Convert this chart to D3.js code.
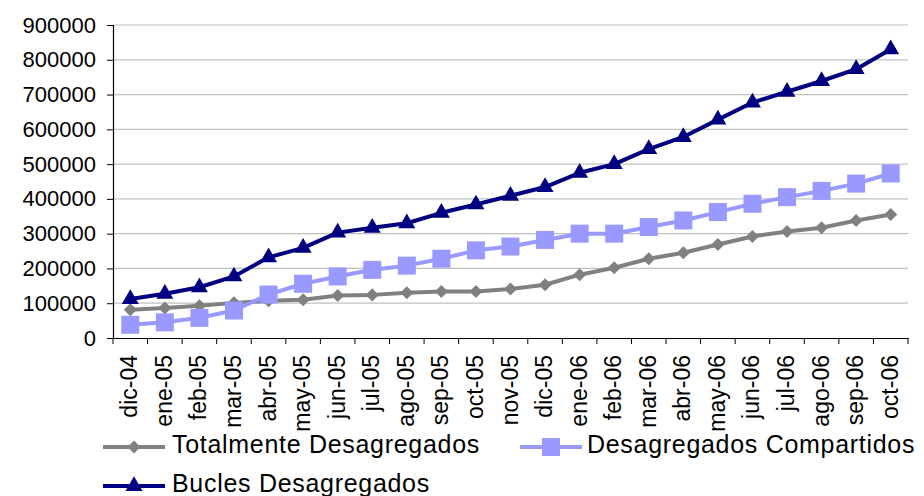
<!DOCTYPE html>
<html>
<head>
<meta charset="utf-8">
<script src="https://cdn.jsdelivr.net/npm/d3@7/dist/d3.min.js"></script>
<style>
  html, body { margin: 0; padding: 0; background: #fff; }
  svg { display: block; font-family: "Liberation Sans", Arial, sans-serif; }
</style>
</head>
<body>
<svg id="chart" width="924" height="496"></svg>
<script>
const categories = ["dic-04","ene-05","feb-05","mar-05","abr-05","may-05","jun-05","jul-05","ago-05","sep-05","oct-05","nov-05","dic-05","ene-06","feb-06","mar-06","abr-06","may-06","jun-06","jul-06","ago-06","sep-06","oct-06"];
const totalmente = [81000,86000,93000,101000,107000,110000,122000,124000,130000,134000,134000,141000,153000,182000,202000,228000,245000,269000,292000,306000,317000,338000,355000];
const compartidos = [38000,45000,58000,79000,125000,156000,177000,196000,208000,228000,252000,263000,282000,300000,300000,319000,338000,362000,386000,405000,423000,444000,473000];
const bucles = [112000,127000,146000,177000,232000,259000,303000,317000,330000,360000,384000,409000,434000,475000,500000,543000,578000,628000,677000,708000,739000,773000,830000];
const yTicks = [0,100000,200000,300000,400000,500000,600000,700000,800000,900000];
const seriesNames = ["Totalmente Desagregados","Desagregados Compartidos","Bucles Desagregados"];

(function () {
const svg = d3.select("#chart");
const pLeft = 113, pRight = 908, pTop = 25, pBottom = 338;

const x = d3.scaleBand().domain(categories).range([pLeft, pRight]).padding(0);
const y = d3.scaleLinear().domain([0, 900000]).range([pBottom, pTop]);

// gridlines
svg.append("g").selectAll("line").data(yTicks.filter(d => d > 0)).join("line")
  .attr("x1", pLeft).attr("x2", pRight)
  .attr("y1", d => y(d)).attr("y2", d => y(d))
  .attr("stroke", "#c0c0c0").attr("stroke-width", 1.2);

// y axis
const yAxis = svg.append("g").attr("transform", `translate(${pLeft},0)`)
  .call(d3.axisLeft(y).tickValues(yTicks).tickFormat(d => String(d)).tickSize(6).tickPadding(11));
yAxis.select(".domain").attr("stroke", "#000").attr("stroke-width", 1.2);
yAxis.selectAll(".tick line").attr("stroke", "#000");
yAxis.selectAll(".tick text").attr("font-size", 22).attr("fill", "#000")
  .attr("font-family", "'Liberation Sans', Arial, sans-serif");

// x axis
const xAxis = svg.append("g").attr("transform", `translate(0,${pBottom})`)
  .call(d3.axisBottom(x).tickSize(0).tickFormat(""));
xAxis.select(".domain").attr("stroke", "#000").attr("stroke-width", 1.2);
const boundaries = categories.map(c => x(c)).concat([pRight]);
svg.append("g").selectAll("line").data(boundaries).join("line")
  .attr("x1", d => d).attr("x2", d => d)
  .attr("y1", pBottom).attr("y2", pBottom + 6)
  .attr("stroke", "#000").attr("stroke-width", 1);

svg.append("g").selectAll("text").data(categories).join("text")
  .attr("transform", d => `translate(${x(d) + x.bandwidth() / 2 + 7},355) rotate(-90)`)
  .attr("text-anchor", "end")
  .attr("font-size", 23)
  .attr("fill", "#000")
  .text(d => d);

const cx = d => x(d) + x.bandwidth() / 2;
const line = d3.line().x((d, i) => cx(categories[i])).y(d => y(d));

const styles = [
  { data: totalmente, color: "#808080", symbol: d3.symbolSquare, size: 85, rotate: 45 },
  { data: compartidos, color: "#9999ff", symbol: d3.symbolSquare, size: 324, rotate: 0 },
  { data: bucles, color: "#000080", symbol: d3.symbolTriangle, size: 125, rotate: 0 }
];

styles.forEach(s => {
  svg.append("path").datum(s.data)
    .attr("d", line)
    .attr("fill", "none")
    .attr("stroke", s.color)
    .attr("stroke-width", 4)
    .attr("stroke-linejoin", "round");
  svg.append("g").selectAll("path").data(s.data).join("path")
    .attr("d", d3.symbol().type(s.symbol).size(s.size))
    .attr("transform", (d, i) => `translate(${cx(categories[i])},${y(d)}) rotate(${s.rotate})`)
    .attr("fill", s.color);
});

// legend
const legendPos = [
  { x1: 103, x2: 165, ly: 447, tx: 172, ty: 453 },
  { x1: 520, x2: 582, ly: 447, tx: 587, ty: 453 },
  { x1: 103, x2: 165, ly: 486, tx: 172, ty: 492 }
];
const lg = svg.append("g");
styles.forEach((s, i) => {
  const p = legendPos[i];
  lg.append("line").attr("x1", p.x1).attr("x2", p.x2).attr("y1", p.ly).attr("y2", p.ly)
    .attr("stroke", s.color).attr("stroke-width", 4);
  lg.append("path")
    .attr("d", d3.symbol().type(s.symbol).size(s.size)())
    .attr("transform", `translate(${(p.x1 + p.x2) / 2},${p.ly}) rotate(${s.rotate})`)
    .attr("fill", s.color);
  lg.append("text").attr("x", p.tx).attr("y", p.ty)
    .attr("font-size", 25).attr("letter-spacing", 0.7).attr("fill", "#000")
    .text(seriesNames[i]);
});
})();
</script>
</body>
</html>
